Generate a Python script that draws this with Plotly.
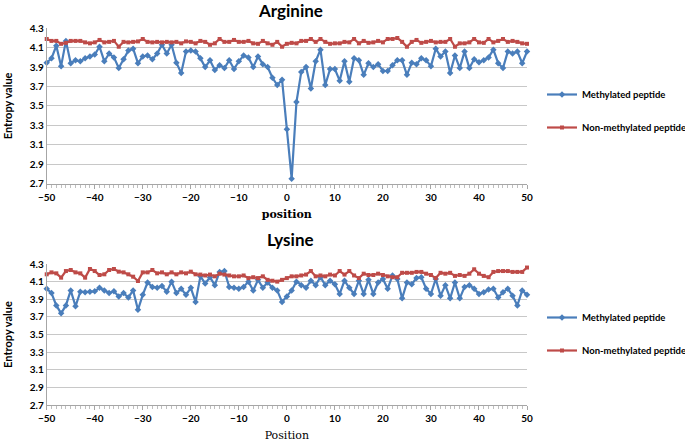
import plotly.graph_objects as go

positions = list(range(-50, 51))

arg_methyl = [3.945, 3.99, 4.12, 3.91, 4.17, 3.94, 3.97, 3.96, 3.99, 4.01,
              4.03, 4.11, 3.96, 4.04, 4.0, 3.89, 3.98, 4.07, 4.09, 3.94,
              4.01, 4.02, 3.98, 4.04, 4.13, 4.04, 4.13, 3.945, 3.84, 4.06,
              4.07, 4.06, 3.99, 3.9, 3.97, 3.87, 3.92, 3.89, 3.97, 3.88,
              3.96, 4.02, 4.0, 3.9, 4.01, 3.93, 3.9, 3.79, 3.715, 3.77,
              3.26, 2.75, 3.54, 3.85, 3.9, 3.68, 3.96, 4.08, 3.715, 3.88,
              3.88, 3.76, 3.96, 3.75, 3.99, 3.97, 3.82, 3.94, 3.9, 3.93,
              3.86, 3.86, 3.92, 3.97, 3.97, 3.82, 3.945, 3.93, 3.99, 3.97,
              3.91, 4.09, 4.01, 4.06, 3.84, 4.02, 3.89, 4.06, 3.89, 3.98,
              3.95, 3.97, 4.0, 4.08, 3.94, 3.89, 4.06, 4.04, 4.06, 3.94,
              4.06]

arg_nonmethyl = [4.19, 4.17, 4.17, 4.14, 4.15, 4.17, 4.17, 4.17, 4.155, 4.145,
                 4.155, 4.18, 4.155, 4.16, 4.17, 4.11, 4.16, 4.155, 4.16, 4.165,
                 4.19, 4.16, 4.155, 4.16, 4.155, 4.16, 4.155, 4.16, 4.145, 4.165,
                 4.16, 4.145, 4.17, 4.16, 4.13, 4.145, 4.19, 4.16, 4.16, 4.18,
                 4.16, 4.16, 4.17, 4.145, 4.14, 4.17, 4.145, 4.13, 4.16, 4.11,
                 4.14, 4.15, 4.145, 4.17, 4.17, 4.19, 4.16, 4.19, 4.16, 4.14,
                 4.145, 4.145, 4.16, 4.155, 4.19, 4.145, 4.17, 4.15, 4.155, 4.17,
                 4.155, 4.19, 4.19, 4.2, 4.16, 4.11, 4.16, 4.18, 4.15, 4.16,
                 4.17, 4.155, 4.16, 4.16, 4.19, 4.11, 4.145, 4.145, 4.155, 4.19,
                 4.155, 4.15, 4.19, 4.155, 4.17, 4.19, 4.16, 4.17, 4.16, 4.145,
                 4.14]

lys_methyl = [4.02, 3.97, 3.83, 3.74, 3.83, 4.0, 3.82, 3.985, 3.98, 3.985,
              3.99, 4.03, 4.0, 3.97, 3.99, 3.93, 3.97, 3.92, 4.0, 3.78,
              3.95, 4.09, 4.04, 4.03, 4.05, 3.985, 4.10, 3.97, 4.02, 3.95,
              4.03, 3.87, 4.16, 4.08, 4.15, 4.06, 4.21, 4.22, 4.04, 4.03,
              4.02, 4.04, 4.10, 4.0, 4.12, 4.03, 4.09, 4.03, 4.0, 3.87,
              3.93, 4.0, 4.10, 4.06, 4.03, 4.11, 4.06, 4.15, 4.06, 4.11,
              4.07, 3.96, 4.11, 4.03, 3.96, 4.11, 3.96, 4.12, 3.96, 4.09,
              4.13, 4.02, 4.17, 4.13, 3.91, 4.09, 4.07, 4.14, 4.15, 4.02,
              3.96, 4.13, 3.94, 4.06, 3.91, 4.09, 3.91, 4.04, 4.06, 4.02,
              3.96, 3.98, 4.01, 4.02, 3.92, 3.98, 4.02, 3.94, 3.83, 4.0,
              3.95]

lys_nonmethyl = [4.183, 4.205, 4.194, 4.145, 4.22, 4.232, 4.205, 4.194, 4.145, 4.243,
                 4.22, 4.175, 4.183, 4.232, 4.243, 4.213, 4.205, 4.183, 4.156, 4.107,
                 4.205, 4.205, 4.232, 4.194, 4.205, 4.183, 4.205, 4.183, 4.205, 4.194,
                 4.213, 4.183, 4.18, 4.17, 4.18, 4.16, 4.19, 4.18, 4.17, 4.16,
                 4.16, 4.17, 4.14, 4.15, 4.14, 4.16, 4.12, 4.11, 4.10, 4.12,
                 4.14, 4.16, 4.16, 4.17, 4.18, 4.22, 4.16, 4.17, 4.16, 4.18,
                 4.17, 4.22, 4.18, 4.22, 4.17, 4.14, 4.19, 4.175, 4.175, 4.19,
                 4.175, 4.16, 4.15, 4.15, 4.2, 4.2, 4.2, 4.21, 4.21, 4.19,
                 4.175, 4.14, 4.2, 4.19, 4.2, 4.165, 4.175, 4.165, 4.19, 4.24,
                 4.19, 4.165, 4.15, 4.21, 4.22, 4.22, 4.22, 4.21, 4.21, 4.21,
                 4.26]

y_ticks = [2.7, 2.9, 3.1, 3.3, 3.5, 3.7, 3.9, 4.1, 4.3]
x_ticks = [-50, -40, -30, -20, -10, 0, 10, 20, 30, 40, 50]

BLUE = "#4A7EBB"
RED = "#BE4B48"
W, H = 685, 442

def px_x(p):
    return p / W

def px_y(p):
    return 1 - p / H

fig = go.Figure()

def add_pair(xa, ya, legend, m_vals, n_vals):
    fig.add_trace(go.Scatter(x=positions, y=m_vals, xaxis=xa, yaxis=ya, mode="lines+markers",
                             name="Methylated peptide", legend=legend, legendgroup=legend + "m",
                             line=dict(color=BLUE, width=2.2),
                             marker=dict(symbol="diamond", size=5, color=BLUE),
                             cliponaxis=False))
    fig.add_trace(go.Scatter(x=positions, y=n_vals, xaxis=xa, yaxis=ya, mode="lines+markers",
                             name="Non-methylated peptide", legend=legend, legendgroup=legend + "n",
                             line=dict(color=RED, width=2.2),
                             marker=dict(symbol="square", size=4, color=RED),
                             cliponaxis=False))

add_pair("x", "y", "legend", arg_methyl, arg_nonmethyl)
add_pair("x2", "y2", "legend2", lys_methyl, lys_nonmethyl)

tickfont = dict(family="Lato", size=10, color="#000000", weight="bold")
x_dom = [px_x(46.7), px_x(527)]

xcommon = dict(range=[-50, 50], tickvals=x_ticks, ticks="outside", ticklen=4, tickcolor="#A6A6A6",
               showline=True, linecolor="#A6A6A6", linewidth=1, showgrid=False, zeroline=False,
               tickfont=tickfont, domain=x_dom, automargin=False,
               minor=dict(dtick=1, ticks="outside", ticklen=3, tickcolor="#BFBFBF", showgrid=False))
ycommon = dict(range=[2.7, 4.3], tickvals=y_ticks, ticktext=[f"{v:.1f}" for v in y_ticks],
               showgrid=True, gridcolor="#C8C8C8", gridwidth=1, showline=True, linecolor="#A6A6A6",
               zeroline=False, ticks="", tickfont=tickfont, automargin=False)

legfont = dict(family="Lato", size=9.5, color="#000", weight="bold")

fig.update_layout(
    width=W, height=H,
    margin=dict(l=0, r=0, t=0, b=0, autoexpand=False),
    paper_bgcolor="white", plot_bgcolor="white",
    xaxis=dict(xcommon, anchor="y",
               title=dict(text="position", font=dict(family="DejaVu Serif", size=11, color="#000", weight="bold"), standoff=8)),
    yaxis=dict(ycommon, anchor="x", domain=[px_y(183.5), px_y(28.3)],
               title=dict(text="Entropy value", font=dict(family="Lato", size=11, color="#000", weight="bold"), standoff=14)),
    xaxis2=dict(xcommon, anchor="y2",
                title=dict(text="Position", font=dict(family="DejaVu Serif", size=11, color="#000"), standoff=8)),
    yaxis2=dict(ycommon, anchor="x2", domain=[px_y(405), px_y(264)],
                title=dict(text="Entropy value", font=dict(family="Lato", size=11, color="#000", weight="bold"), standoff=14)),
    legend=dict(x=px_x(542), y=px_y(80), xanchor="left", yanchor="top", traceorder="grouped",
                tracegroupgap=14, itemwidth=30, bgcolor="rgba(0,0,0,0)", font=legfont),
    legend2=dict(x=px_x(542), y=px_y(303), xanchor="left", yanchor="top", traceorder="grouped",
                 tracegroupgap=14, itemwidth=30, bgcolor="rgba(0,0,0,0)", font=legfont),
    annotations=[
        dict(text="Arginine", x=px_x(290), y=px_y(10), xref="paper", yref="paper", showarrow=False,
             font=dict(family="Lato", size=17, color="#000", weight="bold"), xanchor="center", yanchor="middle"),
        dict(text="Lysine", x=px_x(290), y=px_y(240), xref="paper", yref="paper", showarrow=False,
             font=dict(family="Lato", size=17, color="#000", weight="bold"), xanchor="center", yanchor="middle"),
    ],
)

fig.write_html("out.html", config={"displayModeBar": False},
               post_script="document.body.style.margin='0px';")
